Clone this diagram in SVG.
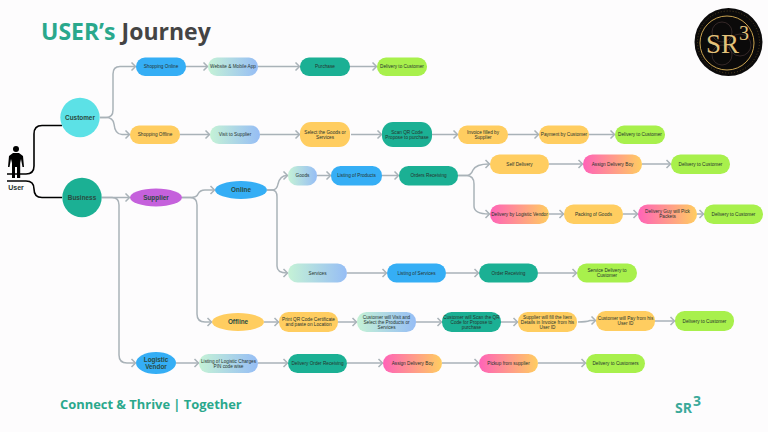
<svg xmlns="http://www.w3.org/2000/svg" width="768" height="432" viewBox="0 0 768 432">
<style>
text{font-family:"Liberation Sans",Arial,sans-serif;text-anchor:middle;fill:#26332e}
.s{font-size:4.7px}
.m{font-size:6.4px;font-weight:700;fill:#2a4a40}
.d{font-family:"Open Sans","Liberation Sans",sans-serif;font-weight:700;text-anchor:start}
.l{fill:none;stroke:#a9b2b8;stroke-width:1.5}
.k{fill:none;stroke:#000;stroke-width:1.6}
.b{fill:#35aef5}.y{fill:#ffcd60}.t{fill:#1bb094}.g{fill:#a8f04c}
.h{fill:url(#ice)}.p{fill:url(#pk)}
</style>
<defs>
<marker id="a" markerUnits="userSpaceOnUse" markerWidth="8" markerHeight="10" refX="6" refY="5" orient="auto"><path d="M2.5 1L6.5 5L2.5 9" fill="none" stroke="#a9b2b8" stroke-width="1.5"/></marker>
<linearGradient id="ice"><stop offset="0" stop-color="#c5f2d6"/><stop offset="1" stop-color="#96bdf5"/></linearGradient>
<linearGradient id="pk"><stop offset="0" stop-color="#ff63b8"/><stop offset="1" stop-color="#ffcd60"/></linearGradient>
</defs>
<rect width="768" height="432" fill="#fdfcfd"/>
<text class="d" x="41" y="39.500" style="font-size:23px"><tspan fill="#2aa88c">USER’s</tspan><tspan fill="#444"> Journey</tspan></text>
<text class="d" x="60" y="409" style="font-size:12.900px;fill:#2aa88c">Connect &amp; Thrive | Together</text>
<text class="d" x="675" y="413" style="font-size:14px;fill:#3aa99a">SR</text>
<text class="d" x="693" y="406" style="font-size:14px;fill:#3aa99a">3</text>
<g id="connectors">
<path class="k" d="M7 174H26Q34 174 34 166V134Q34 125.500 42 125.500H62"/>
<path class="k" d="M7 181H26Q34 181 34 189Q34 197.500 42 197.500H62"/>
<g class="l">
<path marker-end="url(#a)" d="M100 117.500H106Q113 117.500 113 110V74Q113 66.500 120 66.500H135"/>
<path marker-end="url(#a)" d="M100 117.500H106Q113 117.500 114 124Q115 134.500 122 134.500H129"/>
<path marker-end="url(#a)" d="M186 66.500H207"/><path marker-end="url(#a)" d="M258 66.500H299"/><path marker-end="url(#a)" d="M350 66.500H376"/>
<path marker-end="url(#a)" d="M180 134.500H209"/><path marker-end="url(#a)" d="M260 134.500H299"/><path marker-end="url(#a)" d="M351 134.500H381"/><path marker-end="url(#a)" d="M432 134.500H457"/><path marker-end="url(#a)" d="M508 134.500H538"/><path marker-end="url(#a)" d="M589 134.500H614"/>
<path marker-end="url(#a)" d="M102 197.500H129"/>
<path marker-end="url(#a)" d="M102 197.500H112Q119 197.500 119 205V355Q119 363 127 363H135"/>
<path marker-end="url(#a)" d="M182 197.500H190Q197 197.500 198 194Q200 190 205 190H214"/>
<path marker-end="url(#a)" d="M182 197.500H190Q197 197.500 197 205V314Q197 322 205 322H211"/>
<path marker-end="url(#a)" d="M267 190H272Q277 190 278 184Q280 175.500 287 175.500"/>
<path marker-end="url(#a)" d="M267 190H272Q277 190 277 197V266Q277 273 287 273"/>
<path marker-end="url(#a)" d="M317 175.500H330"/><path marker-end="url(#a)" d="M382 175.500H398"/>
<path marker-end="url(#a)" d="M458 175.500H466Q471 175.500 473 170Q476 164 489 164"/>
<path marker-end="url(#a)" d="M458 175.500H466Q474 175.500 474 184V206Q474 214 489 214"/>
<path marker-end="url(#a)" d="M549 164H582"/><path marker-end="url(#a)" d="M642 164H670"/>
<path marker-end="url(#a)" d="M549 214H563"/><path marker-end="url(#a)" d="M623 214H637"/><path marker-end="url(#a)" d="M697 214H703"/>
<path marker-end="url(#a)" d="M347 273H386"/><path marker-end="url(#a)" d="M446 273H478"/><path marker-end="url(#a)" d="M538 273H576"/>
<path marker-end="url(#a)" d="M264 322H278"/><path marker-end="url(#a)" d="M338 322H356"/><path marker-end="url(#a)" d="M416 322H441"/><path marker-end="url(#a)" d="M501 322H517"/><path marker-end="url(#a)" d="M578 322Q586 322 590 320.500H595"/><path marker-end="url(#a)" d="M655 321H674"/>
<path marker-end="url(#a)" d="M176 363H198"/><path marker-end="url(#a)" d="M258 363H287"/><path marker-end="url(#a)" d="M347 363H382"/><path marker-end="url(#a)" d="M442 363H478"/><path marker-end="url(#a)" d="M538 363H585"/>
</g>
</g>
<g id="user"><circle cx="16" cy="149" r="3"/><path d="M13 153H19L23 156L24 167H22.500L21 159L20.200 163V178H17V167H15V178H12V163L11 159L9.500 167H8L9 156Z"/><text x="16" y="190" style="font-size:7px;font-weight:700">User</text></g>
<g id="customer"><circle cx="80" cy="117.500" r="19.700" fill="#5ce1e6"/><text class="m" x="80" y="119.800">Customer</text></g>
<g id="business"><circle cx="82" cy="197.500" r="19.700" class="t"/><text class="m" x="82" y="199.800">Business</text></g>
<g id="supplier"><ellipse cx="156" cy="197.500" rx="26" ry="9" fill="#c561dc"/><text class="m" x="156" y="199.800">Supplier</text></g>
<g id="online"><ellipse cx="241" cy="190" rx="26" ry="9" class="b"/><text class="m" x="241" y="192.300">Online</text></g>
<g id="offline"><ellipse cx="238" cy="322" rx="26" ry="9" class="y"/><text class="m" x="238" y="324.300">Offline</text></g>
<g id="logistic"><ellipse cx="156" cy="363" rx="20" ry="11" class="b"/><text class="m" x="156" y="362">Logistic</text><text class="m" x="156" y="369">Vendor</text></g>
<g id="n1"><rect x="136" y="57.500" width="50" height="18.500" rx="9" class="b"/><text class="s" x="161" y="68.300">Shopping Online</text></g>
<g id="n2"><rect x="208" y="57.500" width="50" height="18.500" rx="9" class="h"/><text class="s" x="233" y="68.300">Website &amp; Mobile App</text></g>
<g id="n3"><rect x="300" y="57.500" width="50" height="18.500" rx="9" class="t"/><text class="s" x="325" y="68.300">Purchase</text></g>
<g id="n4"><rect x="377" y="57.500" width="50" height="18.500" rx="9" class="g"/><text class="s" x="402" y="68.300">Delivery to Customer</text></g>
<g id="n5"><rect x="130" y="125.500" width="50" height="18.500" rx="9" class="y"/><text class="s" x="155" y="136.300">Shopping Offline</text></g>
<g id="n6"><rect x="210" y="125.500" width="50" height="18.500" rx="9" class="h"/><text class="s" x="235" y="136.300">Visit to Supplier</text></g>
<g id="n7"><rect x="300" y="122" width="50" height="25" rx="11" class="y"/><text class="s" x="325" y="133.800">Select the Goods or</text><text class="s" x="325" y="138.800">Services</text></g>
<g id="n8"><rect x="382" y="122" width="50" height="25" rx="11" class="t"/><text class="s" x="407" y="133.800">Scan QR Code</text><text class="s" x="407" y="138.800">Propose to purchase</text></g>
<g id="n9"><rect x="458" y="125.500" width="50" height="18.500" rx="9" class="y"/><text class="s" x="483" y="133.800">Invoice filled by</text><text class="s" x="483" y="138.800">Supplier</text></g>
<g id="n10"><rect x="539" y="125.500" width="50" height="18.500" rx="9" class="y"/><text class="s" x="564" y="136.300">Payment by Customer</text></g>
<g id="n11"><rect x="615" y="125.500" width="50" height="18.500" rx="9" class="g"/><text class="s" x="640" y="136.300">Delivery to Customer</text></g>
<g id="n12"><rect x="288" y="166" width="29" height="19.500" rx="9.500" class="h"/><text class="s" x="302.500" y="177.300">Goods</text></g>
<g id="n13"><rect x="331" y="166" width="51" height="19.500" rx="9.500" class="b"/><text class="s" x="356.500" y="177.300">Listing of Products</text></g>
<g id="n14"><rect x="399" y="166" width="59" height="19.500" rx="9.500" class="t"/><text class="s" x="428.500" y="177.300">Orders Receiving</text></g>
<g id="n15"><rect x="490" y="154.500" width="59" height="19.500" rx="9.500" class="y"/><text class="s" x="519.500" y="165.800">Self Delivery</text></g>
<g id="n16"><rect x="583" y="154.500" width="59" height="19.500" rx="9.500" class="p"/><text class="s" x="612.500" y="165.800">Assign Delivery Boy</text></g>
<g id="n17"><rect x="671" y="154.500" width="59" height="19.500" rx="9.500" class="g"/><text class="s" x="700.500" y="165.800">Delivery to Customer</text></g>
<g id="n18"><rect x="490" y="204.500" width="59" height="19.500" rx="9.500" class="p"/><text class="s" x="519.500" y="215.800">Delivery by Logistic Vendor</text></g>
<g id="n19"><rect x="564" y="204.500" width="59" height="19.500" rx="9.500" class="y"/><text class="s" x="593.500" y="215.800">Packing of Goods</text></g>
<g id="n20"><rect x="638" y="204.500" width="59" height="19.500" rx="9.500" class="p"/><text class="s" x="667.500" y="213.300">Delivery Guy will Pick</text><text class="s" x="667.500" y="218.300">Packets</text></g>
<g id="n21"><rect x="704" y="204.500" width="59" height="19.500" rx="9.500" class="g"/><text class="s" x="733.500" y="215.800">Delivery to Customer</text></g>
<g id="n22"><rect x="288" y="263.500" width="59" height="19" rx="9.500" class="h"/><text class="s" x="317.500" y="274.700">Services</text></g>
<g id="n23"><rect x="387" y="263.500" width="59" height="19" rx="9.500" class="b"/><text class="s" x="416.500" y="274.700">Listing of Services</text></g>
<g id="n24"><rect x="479" y="263.500" width="59" height="19" rx="9.500" class="t"/><text class="s" x="508.500" y="274.700">Order Receiving</text></g>
<g id="n25"><rect x="577" y="263.500" width="60" height="19" rx="9.500" class="g"/><text class="s" x="607" y="272.300">Service Delivery to</text><text class="s" x="607" y="277.300">Customer</text></g>
<g id="n26"><rect x="279" y="312" width="59" height="20" rx="9.500" class="y"/><text class="s" x="308.500" y="321.300">Print QR Code Certificate</text><text class="s" x="308.500" y="326.300">and paste on Location</text></g>
<g id="n27"><rect x="357" y="312" width="59" height="20" rx="9.500" class="h"/><text class="s" x="386.500" y="318.600">Customer will Visit and</text><text class="s" x="386.500" y="323.600">Select the Products or</text><text class="s" x="386.500" y="328.600">Services</text></g>
<g id="n28"><rect x="442" y="312" width="59" height="20" rx="9.500" class="t"/><text class="s" x="471.500" y="318.600">Customer will Scan the QR</text><text class="s" x="471.500" y="323.600">Code for Propose to</text><text class="s" x="471.500" y="328.600">purchase</text></g>
<g id="n29"><rect x="518" y="312" width="59" height="20" rx="9.500" class="y"/><text class="s" x="547.500" y="318.600">Supplier will fill the Item</text><text class="s" x="547.500" y="323.600">Details in Invoice from his</text><text class="s" x="547.500" y="328.600">User ID</text></g>
<g id="n30"><rect x="596" y="311" width="59" height="20" rx="9.500" class="y"/><text class="s" x="625.500" y="320.300">Customer will Pay from his</text><text class="s" x="625.500" y="325.300">User ID</text></g>
<g id="n31"><rect x="675" y="311" width="59" height="20" rx="9.500" class="g"/><text class="s" x="704.500" y="322.800">Delivery to Customer</text></g>
<g id="n32"><rect x="199" y="354" width="59" height="19" rx="9.500" class="h"/><text class="s" x="228.500" y="362.800">Listing of Logistic Charges</text><text class="s" x="228.500" y="367.800">PIN code wise</text></g>
<g id="n33"><rect x="288" y="354" width="59" height="19" rx="9.500" class="t"/><text class="s" x="317.500" y="365.300">Delivery Order Receiving</text></g>
<g id="n34"><rect x="383" y="354" width="59" height="19" rx="9.500" class="p"/><text class="s" x="412.500" y="365.300">Assign Delivery Boy</text></g>
<g id="n35"><rect x="479" y="354" width="59" height="19" rx="9.500" class="p"/><text class="s" x="508.500" y="365.300">Pickup from supplier</text></g>
<g id="n36"><rect x="586" y="354" width="59" height="19" rx="9.500" class="g"/><text class="s" x="615.500" y="365.300">Delivery to Customers</text></g>
<g id="logo"><circle cx="728.500" cy="42" r="34" fill="#0b0a0a"/><circle cx="727" cy="43" r="27" fill="none" stroke="#c9a24f" stroke-width="1"/><circle cx="728.500" cy="42" r="31" fill="none" stroke="#6b5527" stroke-width=".7" stroke-dasharray="1 2"/>
<g fill="none" stroke="#4f3a3a" stroke-width=".6"><circle cx="722" cy="32" r="10"/><circle cx="740" cy="45" r="11"/><circle cx="722" cy="55" r="10"/></g>
<text x="706" y="53" style="text-anchor:start;font-family:'Liberation Serif',serif;font-size:27px;fill:#e3c27a">SR</text><text x="739" y="40" style="text-anchor:start;font-family:'Liberation Serif',serif;font-size:20px;fill:#e3c27a">3</text></g>
</svg>
